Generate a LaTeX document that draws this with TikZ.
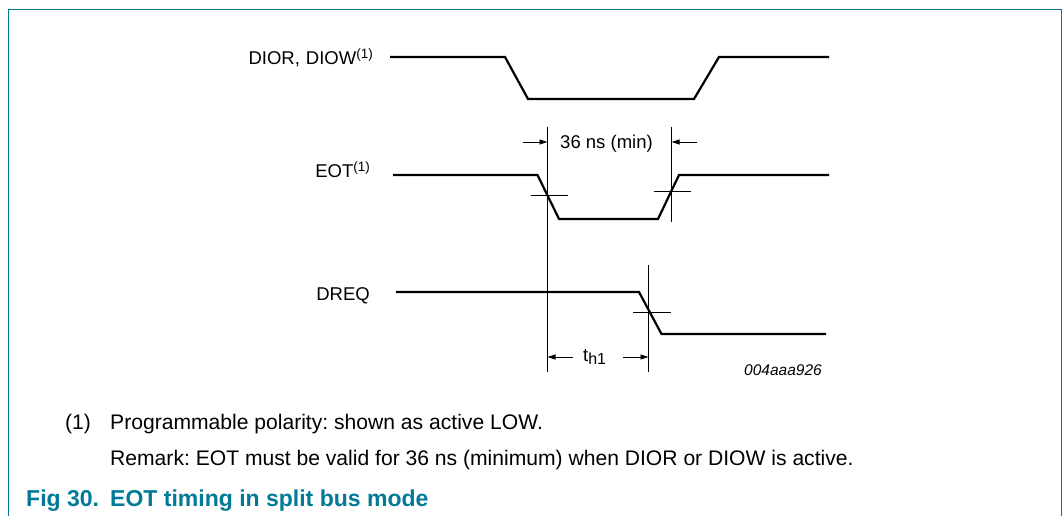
\documentclass[tikz,border=0pt]{standalone}
\usepackage{fontspec}
\setmainfont{Liberation Sans}
\usetikzlibrary{arrows.meta}
\definecolor{nxpteal}{RGB}{0,122,150}
\frenchspacing
\begin{document}
\begin{tikzpicture}[x=1pt,y=-1pt,
  sig/.style={line width=2.2pt,line join=miter},
  thin/.style={line width=0.9pt},
  dimarrow/.style={line width=0.9pt,-{Triangle[length=8pt,width=5pt]}},
  lbl/.style={inner sep=0pt,font=\fontsize{18.5}{22}\selectfont},
  note/.style={inner sep=0pt,anchor=base west,font=\fontsize{21.1}{25}\selectfont},
  ttl/.style={inner sep=0pt,anchor=base west,text=nxpteal,font=\fontsize{23}{27}\selectfont\bfseries}]
\useasboundingbox (0,0) rectangle (1063,516);
% frame
\draw[nxpteal,line width=1.5pt] (8.5,516) -- (8.5,9.5) -- (1061.5,9.5) -- (1061.5,516);

% signal labels
\newcommand{\supone}{\raisebox{0.62ex}{\fontsize{13.5}{14}\selectfont(1)}}
\node[lbl,anchor=base east] (ldior) at (373,65) {DIOR,\hspace{6pt}DIOW\supone};
\node[lbl,anchor=base east] (leot) at (370,178) {EOT\supone};
\node[lbl,anchor=base east] (ldreq) at (370,300) {DREQ};

% DIOR / DIOW
\coordinate (d0) at (390,57);
\coordinate (d1) at (505,57);
\coordinate (d2) at (528,99);
\coordinate (d3) at (694,99);
\coordinate (d4) at (719,57);
\coordinate (d5) at (829,57);
\draw[sig] (d0) -- (d1) -- (d2) -- (d3) -- (d4) -- (d5);

% EOT
\coordinate (e0) at (393,175);
\coordinate (e1) at (537.5,175);
\coordinate (e2) at (559,219);
\coordinate (e3) at (658,219);
\coordinate (e4) at (679,175);
\coordinate (e5) at (829,175);
\draw[sig] (e0) -- (e1) -- (e2) -- (e3) -- (e4) -- (e5);

% DREQ
\coordinate (q0) at (396,292);
\coordinate (q1) at (639,292);
\coordinate (q2) at (661.5,334);
\coordinate (q3) at (826,334);
\draw[sig] (q0) -- (q1) -- (q2) -- (q3);

% reference lines
\coordinate (va) at (547.5,127);
\coordinate (vab) at (547.5,372);
\coordinate (vb) at (671.5,127);
\coordinate (vbb) at (671.5,222);
\coordinate (vc) at (648.5,265);
\coordinate (vcb) at (648.5,372);
\draw[thin] (va) -- (vab);
\draw[thin] (vb) -- (vbb);
\draw[thin] (vc) -- (vcb);

% crossing ticks
\coordinate (t1a) at (531,195.5);
\coordinate (t1b) at (568,195.5);
\coordinate (t2a) at (654,191.5);
\coordinate (t2b) at (691,191.5);
\coordinate (t3a) at (633,312.5);
\coordinate (t3b) at (671,312.5);
\draw[thin] (t1a) -- (t1b);
\draw[thin] (t2a) -- (t2b);
\draw[thin] (t3a) -- (t3b);

% 36 ns dimension
\coordinate (a1s) at (522.5,142);
\coordinate (a1e) at (547.5,142);
\coordinate (a2s) at (697,142);
\coordinate (a2e) at (671.5,142);
\draw[dimarrow] (a1s) -- (a1e);
\draw[dimarrow] (a2s) -- (a2e);
\node[lbl,anchor=base] (l36) at (606.5,148.3) {36 ns (min)};

% th1 dimension
\coordinate (b1s) at (573,357);
\coordinate (b1e) at (547.5,357);
\coordinate (b2s) at (623,357);
\coordinate (b2e) at (648.5,357);
\draw[dimarrow] (b1s) -- (b1e);
\draw[dimarrow] (b2s) -- (b2e);
\node[lbl,anchor=base west] (lth) at (583,361.5) {t\raisebox{-0.3ex}{\fontsize{16}{16}\selectfont h1}};

% figure code
\node[inner sep=0pt,anchor=base east,font=\fontsize{15.5}{17}\selectfont\itshape] (code) at (822,375) {004aaa926};

% notes
\node[note] (n1) at (65,429.3) {(1)};
\node[note] (n2) at (110,429.3) {Programmable polarity: shown as active LOW.};
\node[note] (n3) at (110,465) {Remark: EOT must be valid for 36 ns (minimum) when DIOR or DIOW is active.};
\node[ttl] (f1) at (26,506) {Fig 30.};
\node[ttl] (f2) at (110,506) {EOT timing in split bus mode};
\end{tikzpicture}
\end{document}
